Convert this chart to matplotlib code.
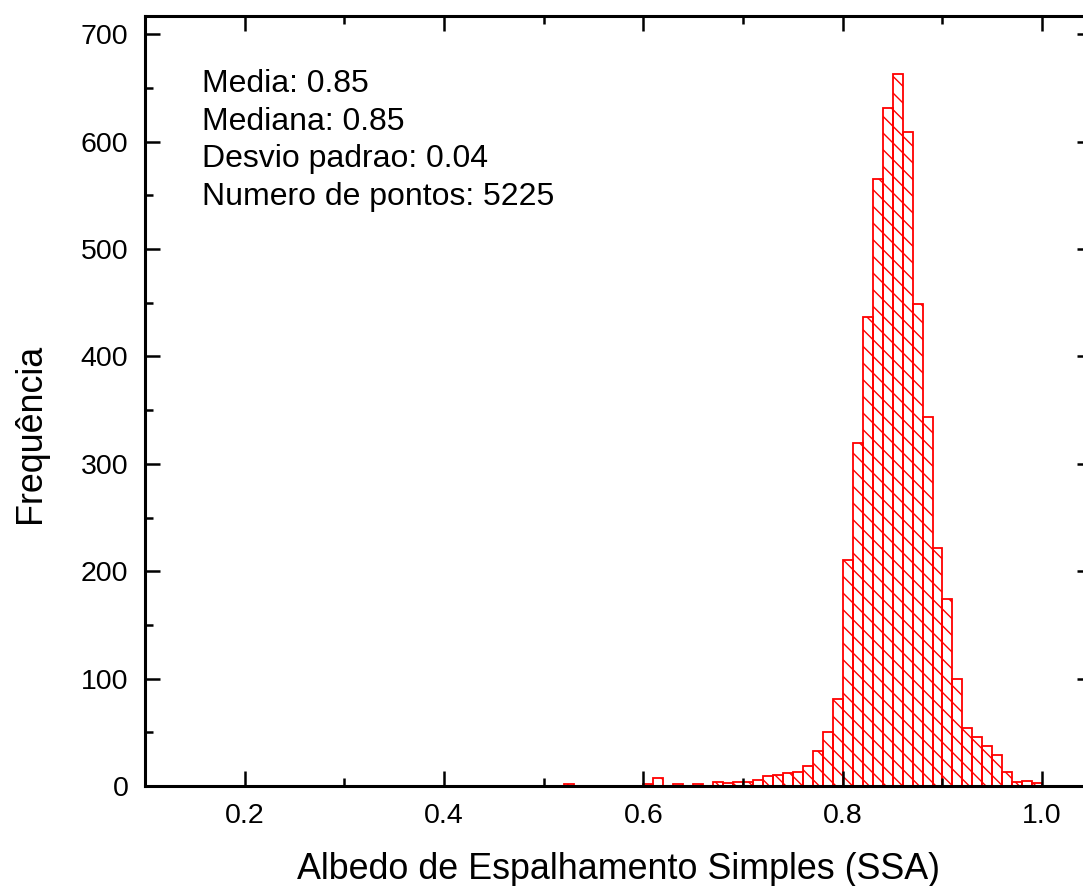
import numpy as np
import matplotlib
matplotlib.use("Agg")
import matplotlib.pyplot as plt
from matplotlib.ticker import MultipleLocator

plt.rcParams['font.family'] = ['Liberation Sans', 'DejaVu Sans']

# histogram of SSA, bins of 0.01 starting at 0.52
bin_left = np.round(np.arange(0.52, 1.00, 0.01), 2)
counts = [2, 0, 0, 0, 0, 0, 0, 0,          # 0.52 - 0.59
          2, 7, 0, 2, 0, 2, 0, 4, 3, 4,    # 0.60 - 0.69
          4, 6, 9, 10, 12, 13, 19, 33, 50, 81,        # 0.70 - 0.79
          210, 319, 437, 565, 631, 663, 609, 449, 344, 222,  # 0.80 - 0.89
          174, 100, 54, 46, 37, 29, 13, 4, 5, 3]      # 0.90 - 0.99

stats_lines = ["Media: 0.85", "Mediana: 0.85", "Desvio padrao: 0.04",
               "Numero de pontos: 5225"]

fig = plt.figure(figsize=(10.83, 8.86), dpi=100)
ax = fig.add_axes([145 / 1083, 100 / 886, 947 / 1083, 770 / 886])

ax.bar(bin_left, counts, width=0.01, align='edge', facecolor='none',
       edgecolor='red', linewidth=1.3, hatch='\\\\')

ax.set_xlim(0.1, 1.05)
ax.set_ylim(0, 717)
ax.xaxis.set_major_locator(MultipleLocator(0.2))
ax.xaxis.set_minor_locator(MultipleLocator(0.1))
ax.yaxis.set_major_locator(MultipleLocator(100))
ax.yaxis.set_minor_locator(MultipleLocator(50))
ax.xaxis.set_major_formatter(plt.FuncFormatter(lambda v, p: f"{v:.1f}"))

for s in ax.spines.values():
    s.set_linewidth(2.2)
ax.tick_params(which='both', direction='in', top=True, right=True, width=1.8)
ax.tick_params(which='major', length=11, labelsize=20.5, pad=12)
ax.tick_params(which='minor', length=6)

ax.set_xlabel("Albedo de Espalhamento Simples (SSA)", fontsize=25.8, labelpad=17)
ax.set_ylabel("Frequência", fontsize=25.8, va='center')
ax.yaxis.set_label_coords(-0.121, 0.458)

for i, line in enumerate(stats_lines):
    b = 92 + i * 37.5
    ax.text(0.060, (786 - b) / 770, line, transform=ax.transAxes,
            fontsize=23, va='baseline', ha='left')

fig.savefig("out.png", dpi=100)
